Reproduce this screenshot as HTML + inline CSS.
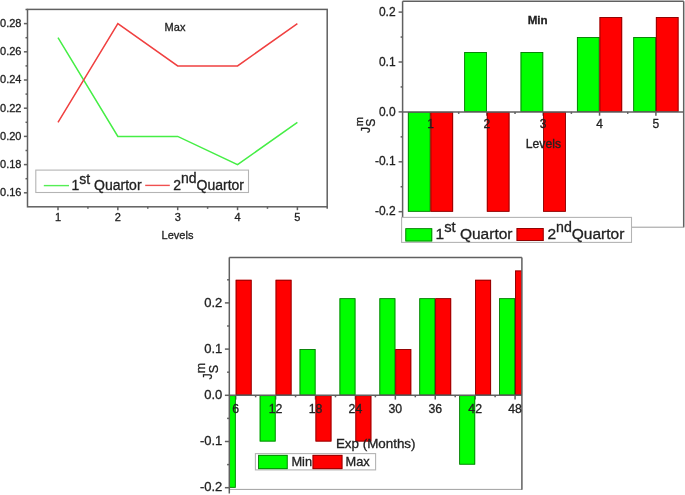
<!DOCTYPE html>
<html><head><meta charset="utf-8"><style>
html,body{margin:0;padding:0;background:#fff;}
body{width:685px;height:495px;overflow:hidden;}
svg{display:block;will-change:transform;font-family:"Liberation Sans",sans-serif;}
text{stroke:#222;stroke-width:0.3px;}
</style></head><body>
<svg width="685" height="495" viewBox="0 0 685 495">
<rect width="685" height="495" fill="#fff"/>
<polyline fill="none" stroke="#45ee45" stroke-width="1.5" points="58,37.7 117.85,136.4 177.7,136.4 237.55,164.6 297.4,122.3"/>
<polyline fill="none" stroke="#f04040" stroke-width="1.5" points="58,122.3 117.85,23.6 177.7,65.9 237.55,65.9 297.4,23.6"/>
<rect x="27.5" y="9.4" width="299.7" height="197.4" fill="none" stroke="#606060" stroke-width="1.5"/>
<line x1="23.9" y1="192.8" x2="27.5" y2="192.8" stroke="#606060" stroke-width="1.5" />
<text x="21.5" y="196.2" font-size="11" text-anchor="end" font-weight="normal" fill="#222" >0.16</text>
<line x1="25.5" y1="178.7" x2="27.5" y2="178.7" stroke="#606060" stroke-width="1.5" />
<line x1="23.9" y1="164.6" x2="27.5" y2="164.6" stroke="#606060" stroke-width="1.5" />
<text x="21.5" y="168" font-size="11" text-anchor="end" font-weight="normal" fill="#222" >0.18</text>
<line x1="25.5" y1="150.5" x2="27.5" y2="150.5" stroke="#606060" stroke-width="1.5" />
<line x1="23.9" y1="136.4" x2="27.5" y2="136.4" stroke="#606060" stroke-width="1.5" />
<text x="21.5" y="139.8" font-size="11" text-anchor="end" font-weight="normal" fill="#222" >0.20</text>
<line x1="25.5" y1="122.3" x2="27.5" y2="122.3" stroke="#606060" stroke-width="1.5" />
<line x1="23.9" y1="108.2" x2="27.5" y2="108.2" stroke="#606060" stroke-width="1.5" />
<text x="21.5" y="111.6" font-size="11" text-anchor="end" font-weight="normal" fill="#222" >0.22</text>
<line x1="25.5" y1="94.1" x2="27.5" y2="94.1" stroke="#606060" stroke-width="1.5" />
<line x1="23.9" y1="80" x2="27.5" y2="80" stroke="#606060" stroke-width="1.5" />
<text x="21.5" y="83.4" font-size="11" text-anchor="end" font-weight="normal" fill="#222" >0.24</text>
<line x1="25.5" y1="65.9" x2="27.5" y2="65.9" stroke="#606060" stroke-width="1.5" />
<line x1="23.9" y1="51.8" x2="27.5" y2="51.8" stroke="#606060" stroke-width="1.5" />
<text x="21.5" y="55.2" font-size="11" text-anchor="end" font-weight="normal" fill="#222" >0.26</text>
<line x1="25.5" y1="37.7" x2="27.5" y2="37.7" stroke="#606060" stroke-width="1.5" />
<line x1="23.9" y1="23.6" x2="27.5" y2="23.6" stroke="#606060" stroke-width="1.5" />
<text x="21.5" y="27" font-size="11" text-anchor="end" font-weight="normal" fill="#222" >0.28</text>
<line x1="25.5" y1="9.5" x2="27.5" y2="9.5" stroke="#606060" stroke-width="1.5" />
<line x1="58" y1="206.8" x2="58" y2="210.2" stroke="#606060" stroke-width="1.5" />
<text x="58" y="221.2" font-size="11" text-anchor="middle" font-weight="normal" fill="#222" >1</text>
<line x1="87.92" y1="206.8" x2="87.92" y2="208.8" stroke="#606060" stroke-width="1.5" />
<line x1="117.85" y1="206.8" x2="117.85" y2="210.2" stroke="#606060" stroke-width="1.5" />
<text x="117.85" y="221.2" font-size="11" text-anchor="middle" font-weight="normal" fill="#222" >2</text>
<line x1="147.78" y1="206.8" x2="147.78" y2="208.8" stroke="#606060" stroke-width="1.5" />
<line x1="177.7" y1="206.8" x2="177.7" y2="210.2" stroke="#606060" stroke-width="1.5" />
<text x="177.7" y="221.2" font-size="11" text-anchor="middle" font-weight="normal" fill="#222" >3</text>
<line x1="207.62" y1="206.8" x2="207.62" y2="208.8" stroke="#606060" stroke-width="1.5" />
<line x1="237.55" y1="206.8" x2="237.55" y2="210.2" stroke="#606060" stroke-width="1.5" />
<text x="237.55" y="221.2" font-size="11" text-anchor="middle" font-weight="normal" fill="#222" >4</text>
<line x1="267.48" y1="206.8" x2="267.48" y2="208.8" stroke="#606060" stroke-width="1.5" />
<line x1="297.4" y1="206.8" x2="297.4" y2="210.2" stroke="#606060" stroke-width="1.5" />
<text x="297.4" y="221.2" font-size="11" text-anchor="middle" font-weight="normal" fill="#222" >5</text>
<line x1="327.2" y1="206.8" x2="327.2" y2="208.8" stroke="#606060" stroke-width="1.5" />
<text x="175" y="31" font-size="11" text-anchor="middle" font-weight="normal" fill="#222" >Max</text>
<text x="177.5" y="239.2" font-size="11" text-anchor="middle" font-weight="normal" fill="#222" >Levels</text>
<rect x="35.8" y="170.1" width="212.7" height="22.4" fill="#fff" stroke="#b4b4b4" stroke-width="1.1"/>
<line x1="43.8" y1="185.6" x2="69" y2="185.6" stroke="#55ee55" stroke-width="1.4" />
<text x="71.5" y="189.6" font-size="14" fill="#222">1<tspan dy="-6" font-size="14">st</tspan><tspan dy="6"> Quartor</tspan></text>
<line x1="145.2" y1="185.4" x2="169.8" y2="185.4" stroke="#f05050" stroke-width="1.4" />
<text x="173.2" y="189.6" font-size="14" fill="#222">2<tspan dy="-6.2" font-size="14">nd</tspan><tspan dy="6.2">Quartor</tspan></text>
<line x1="683.7" y1="1.3" x2="683.7" y2="227.4" stroke="#606060" stroke-width="1.5" />
<line x1="402.6" y1="227.2" x2="683.7" y2="227.2" stroke="#9a9a9a" stroke-width="1.0" />
<line x1="430.5" y1="111.9" x2="430.5" y2="115.7" stroke="#606060" stroke-width="1.5" />
<line x1="486.85" y1="111.9" x2="486.85" y2="115.7" stroke="#606060" stroke-width="1.5" />
<line x1="543.2" y1="111.9" x2="543.2" y2="115.7" stroke="#606060" stroke-width="1.5" />
<line x1="599.55" y1="111.9" x2="599.55" y2="115.7" stroke="#606060" stroke-width="1.5" />
<line x1="655.9" y1="111.9" x2="655.9" y2="115.7" stroke="#606060" stroke-width="1.5" />
<rect x="407.9" y="111.9" width="22.6" height="99.8" fill="#00ff00"/>
<rect x="408.3" y="112.3" width="21.8" height="99" fill="none" stroke="#0a6a0a" stroke-width="0.8"/>
<rect x="430.5" y="111.9" width="22.6" height="99.8" fill="#ff0000"/>
<rect x="430.9" y="112.3" width="21.8" height="99" fill="none" stroke="#7a0000" stroke-width="0.8"/>
<rect x="464.25" y="52.02" width="22.6" height="59.88" fill="#00ff00"/>
<rect x="464.65" y="52.42" width="21.8" height="59.08" fill="none" stroke="#0a6a0a" stroke-width="0.8"/>
<rect x="486.85" y="111.9" width="22.6" height="99.8" fill="#ff0000"/>
<rect x="487.25" y="112.3" width="21.8" height="99" fill="none" stroke="#7a0000" stroke-width="0.8"/>
<rect x="520.6" y="52.02" width="22.6" height="59.88" fill="#00ff00"/>
<rect x="521" y="52.42" width="21.8" height="59.08" fill="none" stroke="#0a6a0a" stroke-width="0.8"/>
<rect x="543.2" y="111.9" width="22.6" height="99.8" fill="#ff0000"/>
<rect x="543.6" y="112.3" width="21.8" height="99" fill="none" stroke="#7a0000" stroke-width="0.8"/>
<rect x="576.95" y="37.05" width="22.6" height="74.85" fill="#00ff00"/>
<rect x="577.35" y="37.45" width="21.8" height="74.05" fill="none" stroke="#0a6a0a" stroke-width="0.8"/>
<rect x="599.55" y="17.09" width="22.6" height="94.81" fill="#ff0000"/>
<rect x="599.95" y="17.49" width="21.8" height="94.01" fill="none" stroke="#7a0000" stroke-width="0.8"/>
<rect x="633.3" y="37.05" width="22.6" height="74.85" fill="#00ff00"/>
<rect x="633.7" y="37.45" width="21.8" height="74.05" fill="none" stroke="#0a6a0a" stroke-width="0.8"/>
<rect x="655.9" y="17.09" width="22.6" height="94.81" fill="#ff0000"/>
<rect x="656.3" y="17.49" width="21.8" height="94.01" fill="none" stroke="#7a0000" stroke-width="0.8"/>
<line x1="402.6" y1="1.3" x2="683.7" y2="1.3" stroke="#606060" stroke-width="1.5" />
<line x1="402.6" y1="1.3" x2="402.6" y2="217.5" stroke="#606060" stroke-width="1.5" />
<line x1="402.6" y1="111.9" x2="683.7" y2="111.9" stroke="#606060" stroke-width="1.5" />
<line x1="398.6" y1="211.7" x2="402.6" y2="211.7" stroke="#606060" stroke-width="1.5" />
<text x="395.6" y="215.3" font-size="12" text-anchor="end" font-weight="normal" fill="#222" >-0.2</text>
<line x1="400.6" y1="186.75" x2="402.6" y2="186.75" stroke="#606060" stroke-width="1.5" />
<line x1="398.6" y1="161.8" x2="402.6" y2="161.8" stroke="#606060" stroke-width="1.5" />
<text x="395.6" y="165.4" font-size="12" text-anchor="end" font-weight="normal" fill="#222" >-0.1</text>
<line x1="400.6" y1="136.85" x2="402.6" y2="136.85" stroke="#606060" stroke-width="1.5" />
<line x1="398.6" y1="111.9" x2="402.6" y2="111.9" stroke="#606060" stroke-width="1.5" />
<text x="395.6" y="115.5" font-size="12" text-anchor="end" font-weight="normal" fill="#222" >0.0</text>
<line x1="400.6" y1="86.95" x2="402.6" y2="86.95" stroke="#606060" stroke-width="1.5" />
<line x1="398.6" y1="62" x2="402.6" y2="62" stroke="#606060" stroke-width="1.5" />
<text x="395.6" y="65.6" font-size="12" text-anchor="end" font-weight="normal" fill="#222" >0.1</text>
<line x1="400.6" y1="37.05" x2="402.6" y2="37.05" stroke="#606060" stroke-width="1.5" />
<line x1="398.6" y1="12.1" x2="402.6" y2="12.1" stroke="#606060" stroke-width="1.5" />
<text x="395.6" y="15.7" font-size="12" text-anchor="end" font-weight="normal" fill="#222" >0.2</text>
<text x="430.5" y="128.2" font-size="12" text-anchor="middle" font-weight="normal" fill="#222" >1</text>
<line x1="458.68" y1="111.9" x2="458.68" y2="113.9" stroke="#606060" stroke-width="1.5" />
<text x="486.85" y="128.2" font-size="12" text-anchor="middle" font-weight="normal" fill="#222" >2</text>
<line x1="515.02" y1="111.9" x2="515.02" y2="113.9" stroke="#606060" stroke-width="1.5" />
<text x="543.2" y="128.2" font-size="12" text-anchor="middle" font-weight="normal" fill="#222" >3</text>
<line x1="571.38" y1="111.9" x2="571.38" y2="113.9" stroke="#606060" stroke-width="1.5" />
<text x="599.55" y="128.2" font-size="12" text-anchor="middle" font-weight="normal" fill="#222" >4</text>
<line x1="627.72" y1="111.9" x2="627.72" y2="113.9" stroke="#606060" stroke-width="1.5" />
<text x="655.9" y="128.2" font-size="12" text-anchor="middle" font-weight="normal" fill="#222" >5</text>
<text x="543.4" y="147.6" font-size="12.2" text-anchor="middle" font-weight="normal" fill="#222" >Levels</text>
<text x="537.7" y="24" font-size="11.6" text-anchor="middle" font-weight="bold" fill="#222" >Min</text>
<text transform="translate(370.1,132.9) rotate(-90)" font-size="12.2" fill="#222">J<tspan dy="4.8">S</tspan><tspan dx="-7.6" dy="-11.8" font-size="11.2">m</tspan></text>
<rect x="401.6" y="217.4" width="229.9" height="25" fill="#fff" stroke="#b4b4b4" stroke-width="1.1"/>
<rect x="405.4" y="228.3" width="26.8" height="13.1" fill="#00ff00"/>
<rect x="405.8" y="228.7" width="26" height="12.3" fill="none" stroke="#0a6a0a" stroke-width="0.8"/>
<text x="435.5" y="238.7" font-size="15.5" fill="#222">1<tspan dy="-6.5" font-size="14.8">st</tspan><tspan dy="6.5"> Quartor</tspan></text>
<rect x="516.6" y="228.1" width="27" height="12.9" fill="#ff0000"/>
<rect x="517" y="228.5" width="26.2" height="12.1" fill="none" stroke="#7a0000" stroke-width="0.8"/>
<text x="547.4" y="238.7" font-size="15.5" fill="#222">2<tspan dy="-6.6" font-size="14.2">nd</tspan><tspan dy="6.5">Quartor</tspan></text>
<line x1="229.3" y1="489.4" x2="521.9" y2="489.4" stroke="#a0a0a0" stroke-width="1.0" />
<defs><clipPath id="c3"><rect x="229.3" y="250" width="292.6" height="245"/></clipPath></defs>
<line x1="235.7" y1="395.3" x2="235.7" y2="399.6" stroke="#606060" stroke-width="1.5" />
<line x1="275.61" y1="395.3" x2="275.61" y2="399.6" stroke="#606060" stroke-width="1.5" />
<line x1="315.52" y1="395.3" x2="315.52" y2="399.6" stroke="#606060" stroke-width="1.5" />
<line x1="355.43" y1="395.3" x2="355.43" y2="399.6" stroke="#606060" stroke-width="1.5" />
<line x1="395.34" y1="395.3" x2="395.34" y2="399.6" stroke="#606060" stroke-width="1.5" />
<line x1="435.25" y1="395.3" x2="435.25" y2="399.6" stroke="#606060" stroke-width="1.5" />
<line x1="475.16" y1="395.3" x2="475.16" y2="399.6" stroke="#606060" stroke-width="1.5" />
<line x1="515.07" y1="395.3" x2="515.07" y2="399.6" stroke="#606060" stroke-width="1.5" />
<g clip-path="url(#c3)">
<rect x="219.8" y="395.3" width="15.9" height="92.4" fill="#00ff00"/>
<rect x="220.2" y="395.7" width="15.1" height="91.6" fill="none" stroke="#0a6a0a" stroke-width="0.8"/>
<rect x="235.7" y="279.8" width="15.9" height="115.5" fill="#ff0000"/>
<rect x="236.1" y="280.2" width="15.1" height="114.7" fill="none" stroke="#7a0000" stroke-width="0.8"/>
<rect x="259.71" y="395.3" width="15.9" height="46.2" fill="#00ff00"/>
<rect x="260.11" y="395.7" width="15.1" height="45.4" fill="none" stroke="#0a6a0a" stroke-width="0.8"/>
<rect x="275.61" y="279.8" width="15.9" height="115.5" fill="#ff0000"/>
<rect x="276.01" y="280.2" width="15.1" height="114.7" fill="none" stroke="#7a0000" stroke-width="0.8"/>
<rect x="299.62" y="349.1" width="15.9" height="46.2" fill="#00ff00"/>
<rect x="300.02" y="349.5" width="15.1" height="45.4" fill="none" stroke="#0a6a0a" stroke-width="0.8"/>
<rect x="315.52" y="395.3" width="15.9" height="46.2" fill="#ff0000"/>
<rect x="315.92" y="395.7" width="15.1" height="45.4" fill="none" stroke="#7a0000" stroke-width="0.8"/>
<rect x="339.53" y="298.28" width="15.9" height="97.02" fill="#00ff00"/>
<rect x="339.93" y="298.68" width="15.1" height="96.22" fill="none" stroke="#0a6a0a" stroke-width="0.8"/>
<rect x="355.43" y="395.3" width="15.9" height="46.2" fill="#ff0000"/>
<rect x="355.83" y="395.7" width="15.1" height="45.4" fill="none" stroke="#7a0000" stroke-width="0.8"/>
<rect x="379.44" y="298.28" width="15.9" height="97.02" fill="#00ff00"/>
<rect x="379.84" y="298.68" width="15.1" height="96.22" fill="none" stroke="#0a6a0a" stroke-width="0.8"/>
<rect x="395.34" y="349.1" width="15.9" height="46.2" fill="#ff0000"/>
<rect x="395.74" y="349.5" width="15.1" height="45.4" fill="none" stroke="#7a0000" stroke-width="0.8"/>
<rect x="419.35" y="298.28" width="15.9" height="97.02" fill="#00ff00"/>
<rect x="419.75" y="298.68" width="15.1" height="96.22" fill="none" stroke="#0a6a0a" stroke-width="0.8"/>
<rect x="435.25" y="298.28" width="15.9" height="97.02" fill="#ff0000"/>
<rect x="435.65" y="298.68" width="15.1" height="96.22" fill="none" stroke="#7a0000" stroke-width="0.8"/>
<rect x="459.26" y="395.3" width="15.9" height="69.3" fill="#00ff00"/>
<rect x="459.66" y="395.7" width="15.1" height="68.5" fill="none" stroke="#0a6a0a" stroke-width="0.8"/>
<rect x="475.16" y="279.8" width="15.9" height="115.5" fill="#ff0000"/>
<rect x="475.56" y="280.2" width="15.1" height="114.7" fill="none" stroke="#7a0000" stroke-width="0.8"/>
<rect x="499.17" y="298.28" width="15.9" height="97.02" fill="#00ff00"/>
<rect x="499.57" y="298.68" width="15.1" height="96.22" fill="none" stroke="#0a6a0a" stroke-width="0.8"/>
<rect x="515.07" y="270.56" width="15.9" height="124.74" fill="#ff0000"/>
<rect x="515.47" y="270.96" width="15.1" height="123.94" fill="none" stroke="#7a0000" stroke-width="0.8"/>
</g>
<line x1="229.3" y1="257.4" x2="521.9" y2="257.4" stroke="#606060" stroke-width="1.5" />
<line x1="229.3" y1="257.4" x2="229.3" y2="493.5" stroke="#606060" stroke-width="1.5" />
<line x1="521.9" y1="257.4" x2="521.9" y2="489.7" stroke="#606060" stroke-width="1.5" />
<line x1="229.3" y1="395.3" x2="521.9" y2="395.3" stroke="#606060" stroke-width="1.5" />
<line x1="224.9" y1="487.7" x2="229.3" y2="487.7" stroke="#606060" stroke-width="1.5" />
<text x="222.3" y="491.3" font-size="13" text-anchor="end" font-weight="normal" fill="#222" >-0.2</text>
<line x1="227.1" y1="464.6" x2="229.3" y2="464.6" stroke="#606060" stroke-width="1.5" />
<line x1="224.9" y1="441.5" x2="229.3" y2="441.5" stroke="#606060" stroke-width="1.5" />
<text x="222.3" y="445.1" font-size="13" text-anchor="end" font-weight="normal" fill="#222" >-0.1</text>
<line x1="227.1" y1="418.4" x2="229.3" y2="418.4" stroke="#606060" stroke-width="1.5" />
<line x1="224.9" y1="395.3" x2="229.3" y2="395.3" stroke="#606060" stroke-width="1.5" />
<text x="222.3" y="398.9" font-size="13" text-anchor="end" font-weight="normal" fill="#222" >0.0</text>
<line x1="227.1" y1="372.2" x2="229.3" y2="372.2" stroke="#606060" stroke-width="1.5" />
<line x1="224.9" y1="349.1" x2="229.3" y2="349.1" stroke="#606060" stroke-width="1.5" />
<text x="222.3" y="352.7" font-size="13" text-anchor="end" font-weight="normal" fill="#222" >0.1</text>
<line x1="227.1" y1="326" x2="229.3" y2="326" stroke="#606060" stroke-width="1.5" />
<line x1="224.9" y1="302.9" x2="229.3" y2="302.9" stroke="#606060" stroke-width="1.5" />
<text x="222.3" y="306.5" font-size="13" text-anchor="end" font-weight="normal" fill="#222" >0.2</text>
<line x1="227.1" y1="279.8" x2="229.3" y2="279.8" stroke="#606060" stroke-width="1.5" />
<text x="235.7" y="412.6" font-size="12.3" text-anchor="middle" font-weight="normal" fill="#222" >6</text>
<line x1="255.65" y1="395.3" x2="255.65" y2="397.3" stroke="#606060" stroke-width="1.5" />
<text x="275.61" y="412.6" font-size="12.3" text-anchor="middle" font-weight="normal" fill="#222" >12</text>
<line x1="295.56" y1="395.3" x2="295.56" y2="397.3" stroke="#606060" stroke-width="1.5" />
<text x="315.52" y="412.6" font-size="12.3" text-anchor="middle" font-weight="normal" fill="#222" >18</text>
<line x1="335.47" y1="395.3" x2="335.47" y2="397.3" stroke="#606060" stroke-width="1.5" />
<text x="355.43" y="412.6" font-size="12.3" text-anchor="middle" font-weight="normal" fill="#222" >24</text>
<line x1="375.38" y1="395.3" x2="375.38" y2="397.3" stroke="#606060" stroke-width="1.5" />
<text x="395.34" y="412.6" font-size="12.3" text-anchor="middle" font-weight="normal" fill="#222" >30</text>
<line x1="415.29" y1="395.3" x2="415.29" y2="397.3" stroke="#606060" stroke-width="1.5" />
<text x="435.25" y="412.6" font-size="12.3" text-anchor="middle" font-weight="normal" fill="#222" >36</text>
<line x1="455.2" y1="395.3" x2="455.2" y2="397.3" stroke="#606060" stroke-width="1.5" />
<text x="475.16" y="412.6" font-size="12.3" text-anchor="middle" font-weight="normal" fill="#222" >42</text>
<line x1="495.11" y1="395.3" x2="495.11" y2="397.3" stroke="#606060" stroke-width="1.5" />
<text x="515.07" y="412.6" font-size="12.3" text-anchor="middle" font-weight="normal" fill="#222" >48</text>
<text x="335.9" y="447.8" font-size="13.4" text-anchor="start" font-weight="normal" fill="#222" >Exp (Months)</text>
<text transform="translate(211.9,379.4) rotate(-90)" font-size="12.5" fill="#222">J<tspan dy="5.8">S</tspan><tspan dx="-8.34" dy="-13">m</tspan></text>
<rect x="255.4" y="453.6" width="120.2" height="16.3" fill="#fff" stroke="#b4b4b4" stroke-width="1.1"/>
<rect x="258.2" y="454.9" width="29.4" height="14.2" fill="#00ff00"/>
<rect x="258.6" y="455.3" width="28.6" height="13.4" fill="none" stroke="#0a6a0a" stroke-width="0.8"/>
<text x="291.4" y="466" font-size="12.8" text-anchor="start" font-weight="normal" fill="#222" >Min</text>
<rect x="312.6" y="454.9" width="29.8" height="14.2" fill="#ff0000"/>
<rect x="313" y="455.3" width="29" height="13.4" fill="none" stroke="#7a0000" stroke-width="0.8"/>
<text x="345.5" y="466" font-size="12.8" text-anchor="start" font-weight="normal" fill="#222" >Max</text>
</svg>
</body></html>
